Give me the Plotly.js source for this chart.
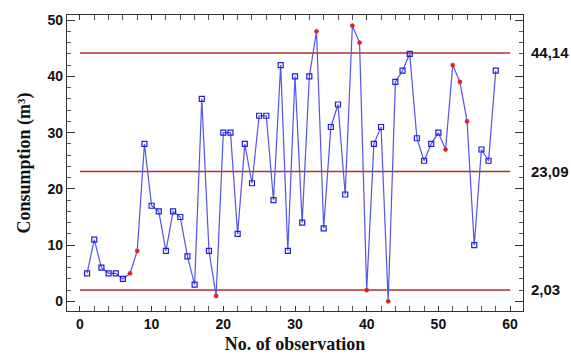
<!DOCTYPE html>
<html>
<head>
<meta charset="utf-8">
<script src="https://cdn.plot.ly/plotly-3.0.1.min.js"></script>
<style>body{margin:0;padding:0;background:#fff}#chart{width:571px;height:356px}</style>
</head>
<body>
<div id="chart"></div>
<script>
const observations = [1,2,3,4,5,6,7,8,9,10,11,12,13,14,15,16,17,18,19,20,21,22,23,24,25,26,27,28,29,30,31,32,33,34,35,36,37,38,39,40,41,42,43,44,45,46,47,48,49,50,51,52,53,54,55,56,57,58];
const consumption = [5,11,6,5,5,4,5,9,28,17,16,9,16,15,8,3,36,9,1,30,30,12,28,21,33,33,18,42,9,40,14,40,48,13,31,35,19,49,46,2,28,31,0,39,41,44,29,25,28,30,27,42,39,32,10,27,25,41];
const flagged = [7,8,19,33,38,39,40,43,51,52,53,54];
const limitValues = [2.03, 23.09, 44.14];
const limitLabels = ['2,03', '23,09', '44,14'];
const limitSpan = [0, 60];

const normX = [], normY = [], flagX = [], flagY = [];
observations.forEach((o, i) => {
  if (flagged.includes(o)) { flagX.push(o); flagY.push(consumption[i]); }
  else { normX.push(o); normY.push(consumption[i]); }
});

const traces = [];
limitValues.forEach(v => {
  traces.push({x: limitSpan, y: [v, v], mode: 'lines', line: {color: '#b22f2f', width: 1.6}, hoverinfo: 'skip', showlegend: false});
});
traces.push({x: observations, y: consumption, mode: 'lines', line: {color: 'rgb(85,85,230)', width: 1.2}, showlegend: false});
traces.push({x: normX, y: normY, mode: 'markers', marker: {symbol: 'square-open', size: 5, color: 'rgb(30,30,220)', line: {width: 1.2}}, showlegend: false});
traces.push({x: flagX, y: flagY, mode: 'markers', marker: {symbol: 'asterisk-open', size: 4, color: '#e02020', line: {width: 1.2, color: '#e02020'}}, showlegend: false});
traces.push({x: [limitSpan[0]], y: [limitValues[0]], yaxis: 'y2', mode: 'markers', marker: {opacity: 0}, hoverinfo: 'skip', showlegend: false});

const tickFont = {family: 'Liberation Sans, Arial, sans-serif', size: 14, color: '#111', weight: 'bold'};
const titleFont = {family: 'Liberation Serif, serif', size: 18, color: '#111'};

const layout = {
  width: 571, height: 356,
  margin: {l: 67, r: 48, t: 15, b: 45},
  paper_bgcolor: '#fff', plot_bgcolor: '#fff',
  font: tickFont,
  xaxis: {
    range: [-1.8, 61.8], tickvals: [0,10,20,30,40,50,60],
    ticks: 'inside', ticklen: 5, tickwidth: 1, tickcolor: '#333',
    minor: {dtick: 2, tick0: 0, ticks: 'inside', ticklen: 3, tickcolor: '#555'},
    showline: true, linecolor: '#333', linewidth: 1.2, mirror: 'allticks',
    showgrid: false, zeroline: false,
    tickfont: tickFont,
    title: {text: '<b>No. of observation</b>', font: titleFont, standoff: 6}
  },
  yaxis: {
    range: [-1.7, 50.9], tickvals: [0,10,20,30,40,50],
    ticks: 'inside', ticklen: 8, tickwidth: 1, tickcolor: '#333',
    minor: {dtick: 2, tick0: 0, ticks: 'inside', ticklen: 4, tickcolor: '#555'},
    showline: true, linecolor: '#333', linewidth: 1.2, mirror: 'allticks',
    showgrid: false, zeroline: false,
    tickfont: tickFont,
    title: {text: '<b>Consumption (m³)</b>', font: titleFont, standoff: 12}
  },
  yaxis2: {
    overlaying: 'y', side: 'right', range: [-1.7, 50.9],
    tickvals: limitValues, ticktext: limitLabels,
    ticks: '', showline: false, showgrid: false, zeroline: false,
    ticklabelstandoff: 7,
    tickfont: {family: 'Liberation Sans, Arial, sans-serif', size: 15, color: '#111', weight: 'bold'}
  }
};

Plotly.newPlot('chart', traces, layout, {staticPlot: true, displayModeBar: false});
</script>
</body>
</html>
